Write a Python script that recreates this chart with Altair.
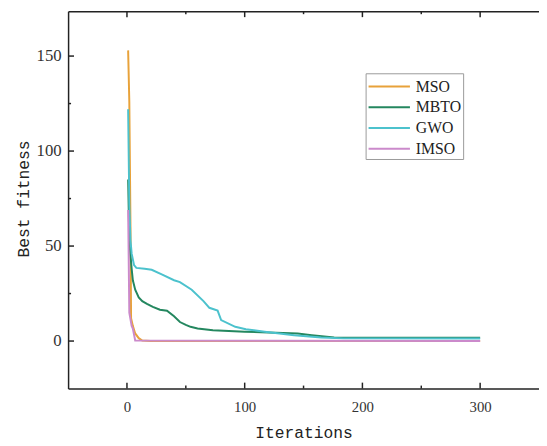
import altair as alt
import pandas as pd

series_names = ["MSO", "MBTO", "GWO", "IMSO"]
series_colors = ["#E8A23A", "#24875F", "#4CC2CD", "#CB8ACB"]

mso_iter = [1, 2, 3, 3.5, 5, 7, 10, 13, 20, 300]
mso_val = [153, 126, 60, 12, 8, 4, 1.5, 0.3, 0.0, 0.0]

mbto_iter = [1, 2, 3, 4, 5, 7, 10, 13, 17, 22, 28, 34, 40, 45, 50, 54, 60, 73, 100, 145, 157, 176, 237, 300]
mbto_val = [85, 53, 45, 38, 32, 27, 23, 21, 19.6, 18, 16.5, 16, 13, 10, 8.5, 7.5, 6.6, 5.7, 4.9, 4.0, 3.1, 1.9, 1.8, 1.7]

gwo_iter = [1, 2, 3, 4, 6, 8, 15, 21, 30, 40, 45, 55, 65, 70, 77, 80, 92, 101, 117, 142, 165, 184, 300]
gwo_val = [122, 72, 53, 46, 40, 38.5, 38, 37.5, 35, 32, 31, 27, 21, 17.5, 16, 11, 7.5, 6.2, 4.9, 3.1, 1.9, 1.4, 1.3]

imso_iter = [1, 2, 4, 5, 7, 300]
imso_val = [69, 15, 8, 6.6, 0.3, 0.0]

y_major = [0, 50, 100, 150]
y_minor = [25, 75, 125]
x_major = [0, 100, 200, 300]
x_minor = [50, 150, 250]

rows = []
for name, its, vals in zip(series_names,
                           [mso_iter, mbto_iter, gwo_iter, imso_iter],
                           [mso_val, mbto_val, gwo_val, imso_val]):
    for i, v in zip(its, vals):
        rows.append({"series": name, "iteration": i, "value": v})
df = pd.DataFrame(rows)

W, H = 478, 383
xscale = alt.Scale(domain=[-50, 350], nice=False, zero=False)
yscale = alt.Scale(domain=[-25, 173.6], nice=False, zero=False)

serif = "Liberation Serif"
mono = "Liberation Mono"

lines = alt.Chart(df).mark_line(strokeWidth=2, clip=True).encode(
    x=alt.X("iteration:Q", scale=xscale,
            axis=alt.Axis(values=x_major, title="Iterations", orient="bottom",
                          ticks=False, tickSize=0, grid=False, domain=True,
                          domainColor="#222", domainWidth=1.5,
                          labelFont=serif, labelFontSize=15, labelColor="#333",
                          labelPadding=11, titleFont=mono, titleFontSize=16.5,
                          titleFontWeight="normal", titleColor="#222",
                          titleBaseline="alphabetic", titleY=50)),
    y=alt.Y("value:Q", scale=yscale,
            axis=alt.Axis(values=y_major, title="Best fitness", orient="left",
                          ticks=False, tickSize=0, grid=False, domain=True,
                          domainColor="#222", domainWidth=1.5,
                          labelFont=serif, labelFontSize=17, labelColor="#333",
                          labelPadding=7, titleFont=mono, titleFontSize=16.5,
                          titleFontWeight="normal", titleColor="#222",
                          titleBaseline="middle", titleX=-45, titleY=190)),
    color=alt.Color("series:N", sort=series_names,
                    scale=alt.Scale(domain=series_names, range=series_colors),
                    legend=alt.Legend(title=None, orient="none", legendX=302, legendY=63,
                                      symbolType="M-1,0H3", symbolSize=441,
                                      symbolStrokeWidth=2, labelFont=serif,
                                      labelFontSize=16, labelColor="#222",
                                      strokeColor="#999", padding=2,
                                      rowPadding=1, labelOffset=26)),
    order=alt.Order("series:N"),
    detail="series:N",
)

ymaj_df = pd.DataFrame({"v": y_major})
ymin_df = pd.DataFrame({"v": y_minor})
xmaj_df = pd.DataFrame({"v": x_major})
xmin_df = pd.DataFrame({"v": x_minor})

tick_color = "#222"

ytick_major = alt.Chart(ymaj_df).mark_rule(color=tick_color, strokeWidth=1.5).encode(
    y=alt.Y("v:Q", scale=yscale, axis=None), x=alt.value(0), x2=alt.value(6))
ytick_minor = alt.Chart(ymin_df).mark_rule(color=tick_color, strokeWidth=1.5).encode(
    y=alt.Y("v:Q", scale=yscale, axis=None), x=alt.value(0), x2=alt.value(3))

xtick_major = alt.Chart(xmaj_df).mark_rule(color=tick_color, strokeWidth=1.5).encode(
    x=alt.X("v:Q", scale=xscale, axis=None), y=alt.value(H), y2=alt.value(H - 6))
xtick_minor = alt.Chart(xmin_df).mark_rule(color=tick_color, strokeWidth=1.5).encode(
    x=alt.X("v:Q", scale=xscale, axis=None), y=alt.value(H), y2=alt.value(H - 3))

top_major = alt.Chart(xmaj_df).mark_rule(color=tick_color, strokeWidth=1.5).encode(
    x=alt.X("v:Q", scale=xscale,
            axis=alt.Axis(orient="top", labels=False, ticks=False, tickSize=0,
                          title=None, grid=False, domain=True,
                          domainColor="#222", domainWidth=1.5)),
    y=alt.value(0), y2=alt.value(6))
top_minor = alt.Chart(xmin_df).mark_rule(color=tick_color, strokeWidth=1.5).encode(
    x=alt.X("v:Q", scale=xscale, axis=None), y=alt.value(0), y2=alt.value(3))

chart = alt.layer(
    lines, ytick_major, ytick_minor, xtick_major, xtick_minor, top_major, top_minor
).resolve_axis(x="independent", y="independent").properties(
    width=W, height=H,
    autosize=alt.AutoSizeParams(type="none"),
    padding={"left": 61, "top": 0, "right": 0, "bottom": 52},
    background="white",
).configure_view(stroke=None)

chart.save("out.html", embed_options={"renderer": "svg", "actions": False})
